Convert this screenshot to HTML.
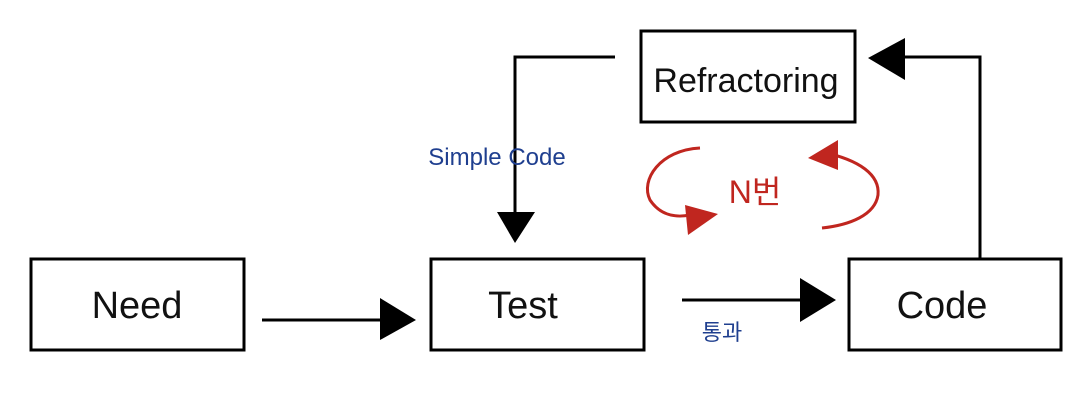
<!DOCTYPE html>
<html><head><meta charset="utf-8"><style>
body{margin:0;background:#fff;}
svg text{font-family:"Liberation Sans","Noto Sans CJK KR",sans-serif;}
</style></head><body>
<svg width="1092" height="408" viewBox="0 0 1092 408" xmlns="http://www.w3.org/2000/svg">
<rect width="1092" height="408" fill="#fff"/>
<g fill="none" stroke="#000" stroke-width="3">
<rect x="31" y="259" width="213" height="91"/>
<rect x="431" y="259" width="213" height="91"/>
<rect x="849" y="259" width="212" height="91"/>
<rect x="641" y="31" width="214" height="91"/>
<path d="M262 320 H385"/>
<path d="M682 300 H805"/>
<path d="M980 258 V57 H900"/>
<path d="M615 57 H515 V220"/>
</g>
<g fill="#000">
<path d="M380 298 L416 320 L380 340 Z"/>
<path d="M800 278 L836 300 L800 322 Z"/>
<path d="M905 38 L868 58 L905 80 Z"/>
<path d="M497 212 L535 212 L515 243 Z"/>
</g>
<g font-size="38" fill="#111" text-anchor="middle">
<text x="137" y="318">Need</text>
<text x="523" y="318">Test</text>
<text x="942" y="318">Code</text>
<text x="746" y="92" font-size="34">Refractoring</text>
</g>
<text x="497" y="165" font-size="24" fill="#1f3f8f" text-anchor="middle">Simple Code</text>
<text x="722" y="340" font-size="22" fill="#1f3f8f" text-anchor="middle">통과</text>
<text x="755" y="203" font-size="32" fill="#c0261f" text-anchor="middle">N번</text>
<g fill="none" stroke="#c0261f" stroke-width="3">
<path d="M700 148 C660 150 640 180 650 200 C660 215 675 218 690 215"/>
<path d="M822 152 C860 160 880 175 878 195 C875 215 850 225 822 228"/>
</g>
<g fill="#c0261f">
<path d="M685 205 L718 214 L688 235 Z"/>
<path d="M808 158 L838 140 L838 170 Z"/>
</g>
</svg>
</body></html>
